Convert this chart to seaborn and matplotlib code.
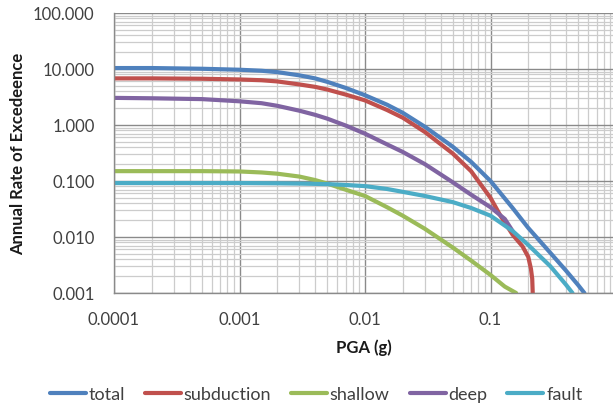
import numpy as np
import pandas as pd
import matplotlib
matplotlib.use("Agg")
import matplotlib.pyplot as plt
import matplotlib.ticker as mticker
import seaborn as sns

# ---- data ----
series_names = ["total", "subduction", "shallow", "deep", "fault"]

total_x = [0.0001, 0.0002, 0.0005, 0.001, 0.0015, 0.002, 0.003, 0.004, 0.005, 0.007, 0.01, 0.015,
           0.02, 0.03, 0.05, 0.07, 0.1, 0.15, 0.2, 0.3, 0.4, 0.5, 0.56]
total_y = [10.4, 10.4, 10.1, 9.7, 9.3, 8.8, 7.7, 6.8, 5.9, 4.6, 3.4, 2.3,
           1.65, 0.93, 0.41, 0.22, 0.1, 0.033, 0.0145, 0.0052, 0.0025, 0.00138, 0.001]

subduction_x = [0.0001, 0.0002, 0.0005, 0.001, 0.0015, 0.002, 0.003, 0.004, 0.005, 0.007, 0.01, 0.015,
                0.02, 0.03, 0.05, 0.07, 0.1, 0.12, 0.15, 0.18, 0.2, 0.21, 0.215, 0.217]
subduction_y = [6.8, 6.8, 6.7, 6.5, 6.3, 6.0, 5.3, 4.8, 4.3, 3.5, 2.75, 1.85,
                1.35, 0.75, 0.31, 0.15, 0.05, 0.024, 0.011, 0.0068, 0.0044, 0.0027, 0.0018, 0.001]

shallow_x = [0.0001, 0.0002, 0.0005, 0.001, 0.0015, 0.002, 0.003, 0.004, 0.005, 0.007, 0.01, 0.015,
             0.02, 0.03, 0.05, 0.07, 0.1, 0.13, 0.16]
shallow_y = [0.15, 0.15, 0.15, 0.148, 0.142, 0.135, 0.12, 0.104, 0.09, 0.07, 0.054, 0.034,
             0.024, 0.014, 0.0065, 0.0038, 0.0021, 0.0013, 0.001]

deep_x = [0.0001, 0.0002, 0.0005, 0.001, 0.0015, 0.002, 0.003, 0.004, 0.005, 0.007, 0.01, 0.015,
          0.02, 0.03, 0.05, 0.07, 0.1, 0.13, 0.15]
deep_y = [3.05, 3.0, 2.9, 2.65, 2.45, 2.2, 1.8, 1.52, 1.3, 0.98, 0.7, 0.45,
          0.33, 0.2, 0.095, 0.057, 0.034, 0.021, 0.0128]

fault_x = [0.0001, 0.0002, 0.0005, 0.001, 0.002, 0.003, 0.005, 0.007, 0.01, 0.015,
           0.02, 0.03, 0.05, 0.07, 0.1, 0.13, 0.15, 0.2, 0.3, 0.4, 0.45]
fault_y = [0.092, 0.092, 0.092, 0.092, 0.091, 0.09, 0.088, 0.085, 0.081, 0.072,
           0.064, 0.054, 0.042, 0.033, 0.024, 0.016, 0.0128, 0.0072, 0.003, 0.0014, 0.001]

x_ticks = [0.0001, 0.001, 0.01, 0.1, 1]
x_tick_labels = ["0.0001", "0.001", "0.01", "0.1", "1"]
y_ticks = [0.001, 0.01, 0.1, 1, 10, 100]
y_tick_labels = ["0.001", "0.010", "0.100", "1.000", "10.000", "100.000"]

colors = ["#4F81BD", "#C0504D", "#9BBB59", "#8064A2", "#4BACC6"]

frames = []
for name, xs, ys in zip(series_names,
                        [total_x, subduction_x, shallow_x, deep_x, fault_x],
                        [total_y, subduction_y, shallow_y, deep_y, fault_y]):
    frames.append(pd.DataFrame({"PGA": xs, "rate": ys, "series": name}))
df = pd.concat(frames, ignore_index=True)

sns.set_theme(style="white")
plt.rcParams["font.family"] = ["Lato", "DejaVu Sans"]

fig = plt.figure(figsize=(6.13, 4.06), dpi=100)
ax = fig.add_axes([114 / 613, (406 - 294) / 406, 502 / 613, 280 / 406])

sns.lineplot(data=df, x="PGA", y="rate", hue="series", hue_order=series_names,
             palette=colors, estimator=None, sort=False, linewidth=3,
             ax=ax, legend=True)

ax.set_xscale("log")
ax.set_yscale("log")
ax.set_xlim(0.0001, 1)
ax.set_ylim(0.001, 100)

ax.set_xticks(x_ticks)
ax.set_xticklabels(x_tick_labels)
ax.set_yticks(y_ticks)
ax.set_yticklabels(y_tick_labels)
ax.xaxis.set_minor_locator(mticker.LogLocator(base=10, subs=np.arange(2, 10), numticks=20))
ax.yaxis.set_minor_locator(mticker.LogLocator(base=10, subs=np.arange(2, 10), numticks=20))
ax.xaxis.set_minor_formatter(mticker.NullFormatter())
ax.yaxis.set_minor_formatter(mticker.NullFormatter())

ax.grid(True, which="major", color="#8a8a8a", linewidth=1.0)
ax.grid(True, which="minor", color="#cccccc", linewidth=0.9)
ax.set_axisbelow(True)
ax.tick_params(which="both", length=0, labelsize=12, labelcolor="#404040")
ax.tick_params(axis="y", pad=14)
ax.tick_params(axis="x", pad=13)

for s in ["top", "right"]:
    ax.spines[s].set_visible(False)
ax.spines["left"].set_color("#8a8a8a")
ax.spines["bottom"].set_color("#8a8a8a")
ax.spines["left"].set_linewidth(1.0)
ax.spines["bottom"].set_linewidth(1.0)

ax.set_xlabel("PGA (g)", fontsize=12, fontweight="bold", color="#1a1a1a")
ax.set_ylabel("Annual Rate of Excedeence", fontsize=12, fontweight="bold", color="#1a1a1a")
ax.xaxis.set_label_coords((364 - 114) / 502, (294 - 339) / 280)
ax.yaxis.set_label_coords((26 - 114) / 502, 0.5)

sns.move_legend(ax, "center", bbox_to_anchor=(316 / 613, 1 - 395 / 406),
                bbox_transform=fig.transFigure, ncol=5, frameon=False, title=None,
                fontsize=13, handlelength=2.0, handletextpad=0.15, columnspacing=1.1,
                labelcolor="#404040")

fig.savefig("out.png", dpi=100, facecolor="white")
